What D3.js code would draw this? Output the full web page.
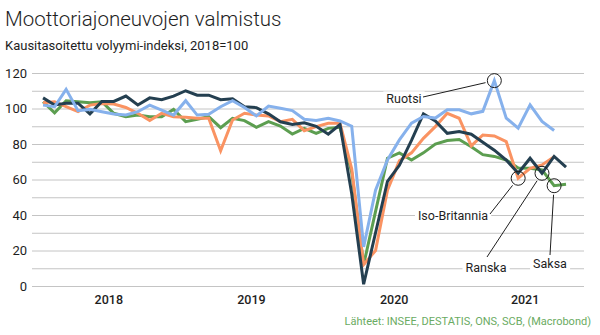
<!DOCTYPE html>
<html>
<head>
<meta charset="utf-8">
<script src="https://cdn.jsdelivr.net/npm/d3@7"></script>
<style>
  body { margin: 0; background: #fff; }
  svg { font-family: Roboto, "Open Sans", sans-serif; }
</style>
</head>
<body>
<svg id="chart" width="600" height="335"></svg>
<script>
// monthly index values, Jan 2018 onwards
const ranska = [106, 102, 103, 103, 97, 104, 104, 107, 102, 106, 105, 107,
  110, 107.5, 107.5, 105, 105.5, 101, 100.5, 97, 92.5, 91, 92, 90,
  85.5, 91, 52, 1, 30, 59, 68, 82, 97, 93, 86, 87,
  85.5, 81, 76.5, 71, 63.5, 72, 63.5, 73, 67]
const isoBritannia = [103.3, 103.8, 101, 98.2, 101.9, 102.8, 102.5, 100.6, 97.3, 93.2, 97.3, 95.4,
  95.1, 94.5, 94.5, 76.2, 93.5, 97.3, 96.3, 95.8, 92.6, 93.9, 87.5, 89.8,
  91.7, 91.7, 66, 12, 20, 54, 70.5, 75, 83.2, 89.8, 97.3, 94.5,
  78.9, 85.1, 84.5, 81.3, 60.7, 66.3, 68.2, 72.8]
const saksa = [103.8, 97.6, 104.4, 103.8, 103.3, 103.8, 97.3, 95.4, 96.3, 95.4, 95.4, 99.5,
  92.6, 93.9, 95.4, 89.2, 94.5, 93.2, 89.4, 92.6, 90.1, 85.6, 88.8, 86,
  88.8, 89.4, 64, 12, 42, 72, 75, 71, 75, 80, 82, 82.5,
  78.5, 74, 73, 71, 66.5, 66.3, 65.4, 56.5, 57.3]
const ruotsi = [101.9, 101, 110.8, 98.8, 99.5, 98.2, 96.9, 96.3, 98.2, 101.9, 99.1, 96.3,
  104.4, 96.3, 96.7, 101, 104.4, 100.6, 95.8, 101.4, 100.1, 98.8, 93.9, 93.2,
  94.5, 93, 90, 22, 54, 71, 82.3, 91.7, 95.5, 94.6, 99.3, 99.3,
  97, 98.4, 115.7, 94.6, 88.9, 102.1, 92.7, 87.6]

const years = [2018, 2019, 2020, 2021]
const yTicks = [0, 20, 40, 60, 80, 100, 120]

const series = [
  {name: 'Saksa', values: saksa, color: '#5c9e50'},
  {name: 'Iso-Britannia', values: isoBritannia, color: '#fa9362'},
  {name: 'Ranska', values: ranska, color: '#243f50'},
  {name: 'Ruotsi', values: ruotsi, color: '#86b1ec'}
]

// which point each label points at (month index)
const notes = [
  {series: 'Ruotsi', idx: 38, text: 'Ruotsi', tx: 404, ty: 99, lx: 423, ly: 97},
  {series: 'Iso-Britannia', idx: 40, text: 'Iso-Britannia', tx: 453, ty: 216, lx: 490, ly: 214},
  {series: 'Ranska', idx: 42, text: 'Ranska', tx: 486, ty: 268, lx: 487, ly: 257},
  {series: 'Saksa', idx: 43, text: 'Saksa', tx: 550, ty: 264, lx: 550, ly: 255}
]

const svg = d3.select('#chart')

const start = new Date(2018, 0, 1)
const end = new Date(2021, 10, 1)
const x = d3.scaleTime().domain([start, end]).range([37, 584])
const y = d3.scaleLinear().domain([0, 120]).range([286, 73])

const monthMid = i => {
  const a = d3.timeMonth.offset(start, i)
  const b = d3.timeMonth.offset(start, i + 1)
  return new Date((+a + +b) / 2)
}

// titles
svg.append('text')
  .attr('x', 5).attr('y', 26)
  .attr('font-size', 20.5)
  .attr('font-weight', 300)
  .attr('fill', '#1e1e1e')
  .text('Moottoriajoneuvojen valmistus')

svg.append('text')
  .attr('x', 5).attr('y', 50)
  .attr('font-size', 13)
  .attr('fill', '#1e1e1e')
  .text('Kausitasoitettu volyymi-indeksi, 2018=100')

// grid + y axis
const yAxis = svg.append('g')
  .attr('transform', 'translate(32,0)')
  .call(d3.axisLeft(y)
    .tickValues(d3.range(0, 121, 10))
    .tickSize(-552)
    .tickPadding(5)
    .tickFormat(d => yTicks.includes(d) ? d : ''))
yAxis.select('.domain').remove()
yAxis.selectAll('line').attr('stroke', '#c4c4c4')
yAxis.selectAll('text')
  .attr('font-size', 13)
  .attr('fill', '#1e1e1e')
  .attr('font-family', 'Roboto, sans-serif')

// x axis: year labels centred in visible part of each year
const yearMid = years.map(yr => {
  const a = d3.max([new Date(yr, 0, 1), start])
  const b = d3.min([new Date(yr + 1, 0, 1), end])
  return new Date((+a + +b) / 2)
})
const xAxis = svg.append('g')
  .attr('transform', 'translate(0,286)')
  .call(d3.axisBottom(x)
    .tickValues(yearMid)
    .tickSize(0)
    .tickPadding(9)
    .tickFormat(d3.timeFormat('%Y')))
xAxis.select('.domain').remove()
xAxis.selectAll('text')
  .attr('font-size', 12.5)
  .attr('font-weight', 500)
  .attr('fill', '#1e1e1e')
  .attr('font-family', 'Roboto, sans-serif')

// lines
const line = d3.line()
  .x((d, i) => x(monthMid(i)))
  .y(d => y(d))

svg.append('g').selectAll('path')
  .data(series)
  .join('path')
  .attr('fill', 'none')
  .attr('stroke', d => d.color)
  .attr('stroke-width', 3)
  .attr('stroke-linejoin', 'miter')
  .attr('d', d => line(d.values))

// annotations
const ann = svg.append('g')
notes.forEach(n => {
  const s = series.find(d => d.name === n.series)
  const cx = x(monthMid(n.idx))
  const cy = y(s.values[n.idx])
  const r = 7
  const ang = Math.atan2(n.ly - cy, n.lx - cx)

  const t = ann.append('text')
    .attr('x', n.tx).attr('y', n.ty)
    .attr('dy', '0.35em')
    .attr('text-anchor', 'middle')
    .attr('font-size', 12.5)
    .attr('fill', '#1e1e1e')
    .text(n.text)
  const bb = t.node().getBBox()
  ann.insert('rect', 'text')
    .attr('x', bb.x - 3).attr('y', bb.y)
    .attr('width', bb.width + 6).attr('height', bb.height)
    .attr('fill', '#fff')

  ann.append('line')
    .attr('x1', n.lx).attr('y1', n.ly)
    .attr('x2', cx + Math.cos(ang) * (r + 2))
    .attr('y2', cy + Math.sin(ang) * (r + 2))
    .attr('stroke', '#1e1e1e')
    .attr('stroke-width', 1)

  ann.append('circle')
    .attr('cx', cx).attr('cy', cy).attr('r', r)
    .attr('fill', 'none')
    .attr('stroke', '#1e1e1e')
    .attr('stroke-width', 1)
})

// source
svg.append('text')
  .attr('x', 591).attr('y', 325)
  .attr('text-anchor', 'end')
  .attr('font-size', 11)
  .attr('fill', '#6aab62')
  .text('Lähteet: INSEE, DESTATIS, ONS, SCB, (Macrobond)')
</script>
</body>
</html>
